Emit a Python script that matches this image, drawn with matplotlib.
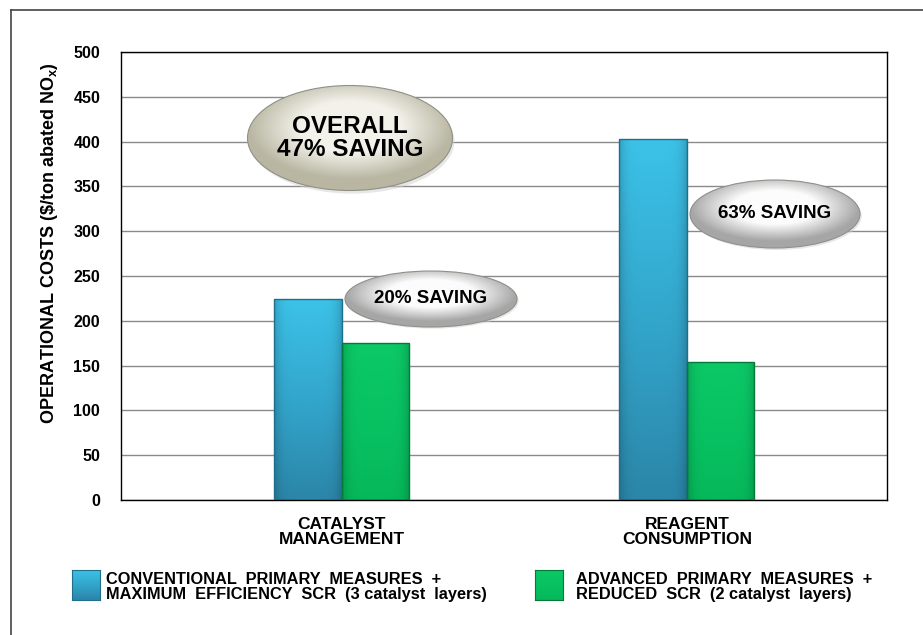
import matplotlib
matplotlib.use("Agg")
import matplotlib.pyplot as plt
from matplotlib.patches import Ellipse
from matplotlib.colors import LinearSegmentedColormap
import numpy as np

plt.rcParams['font.family'] = ['Liberation Sans', 'DejaVu Sans']
plt.rcParams['font.weight'] = 'bold'
plt.rcParams['mathtext.fontset'] = 'custom'
plt.rcParams['mathtext.rm'] = 'Liberation Sans:bold'
plt.rcParams['mathtext.bf'] = 'Liberation Sans:bold'

categories = ["CATALYST\nMANAGEMENT", "REAGENT\nCONSUMPTION"]
conventional = [224, 403]
advanced = [175, 154]
series_names = ["CONVENTIONAL  PRIMARY  MEASURES  +\nMAXIMUM  EFFICIENCY  SCR  (3 catalyst  layers)",
                "ADVANCED  PRIMARY  MEASURES  +\nREDUCED  SCR  (2 catalyst  layers)"]
yticks = list(range(0, 501, 50))

W, H = 923, 635
fig = plt.figure(figsize=(W / 100, H / 100), dpi=100)
ax = fig.add_axes([121 / W, 1 - 500 / H, (887 - 121) / W, (500 - 52) / H])

# outer frame (only left and top visible)
fig.add_artist(plt.Line2D([11 / W, 11 / W], [0, 1 - 10 / H], color="#444444", lw=1.2))
fig.add_artist(plt.Line2D([11 / W, 1], [1 - 10 / H, 1 - 10 / H], color="#444444", lw=1.2))

blue_cmap = LinearSegmentedColormap.from_list("b", ["#2b86a8", "#33a6cc", "#3cc2e8"])
green_cmap = LinearSegmentedColormap.from_list("g", ["#06b85a", "#08c262", "#0cc866"])

x = np.arange(len(categories))
w = 0.195
off = 0.098


def gradient_bar(xc, h, cmap, edge):
    b = ax.bar(xc, h, w, color="none", edgecolor=edge, lw=1.0, zorder=3)[0]
    grad = np.linspace(0, 1, 100).reshape(-1, 1)
    side = np.linspace(-1, 1, 60)
    shade = 1 - 0.18 * np.abs(side) ** 6
    img = cmap(grad)[:, :, :3] * shade[None, :, None]
    im = ax.imshow(img, extent=[xc - w / 2, xc + w / 2, 0, h], origin="lower",
                   aspect="auto", zorder=2)
    im.set_clip_path(b)
    return b


for i in range(len(categories)):
    gradient_bar(x[i] - off, conventional[i], blue_cmap, "#1f6f8c")
    gradient_bar(x[i] + off, advanced[i], green_cmap, "#047a3a")

ax.set_xlim(-0.64, 1.58)
ax.set_ylim(0, 500)
ax.set_yticks(yticks)
ax.set_yticklabels([str(t) for t in yticks], fontsize=11.5, fontweight="bold")
ax.tick_params(axis="y", length=0, pad=15)
ax.set_xticks(x)
ax.set_xticklabels(categories, fontsize=12.5, fontweight="bold", linespacing=1.0)
ax.tick_params(axis="x", length=0, pad=12)
ax.grid(axis="y", color="#8a8a8a", lw=1.0, zorder=0)
ax.set_axisbelow(True)
for s in ax.spines.values():
    s.set_color("black")
    s.set_linewidth(1.0)

fig.text(50 / W, 1 - 243 / H, "OPERATIONAL COSTS (\\$/ton abated NO$_\\mathbf{x}$)",
         fontsize=13, fontweight="bold", rotation=90, ha="center", va="center")


def pix(px, py):
    return ax.transData.inverted().transform(fig.transFigure.transform((px / W, 1 - py / H)))


def gradient_ellipse(cx, cy, ew, eh, inner, outer, text, fs):
    x0, y0 = pix(cx - ew / 2, cy + eh / 2)
    x1, y1 = pix(cx + ew / 2, cy - eh / 2)
    xc, yc = (x0 + x1) / 2, (y0 + y1) / 2
    e = Ellipse((xc, yc), x1 - x0, y1 - y0, facecolor="none", edgecolor="#909088",
                lw=0.8, zorder=6)
    ax.add_patch(e)
    sh = Ellipse((xc + (x1 - x0) * 0.01, yc - (y1 - y0) * 0.03), x1 - x0, y1 - y0,
                 facecolor="#d0d0d0", edgecolor="none", alpha=0.5, zorder=4)
    ax.add_patch(sh)
    gx, gy = np.meshgrid(np.linspace(-1, 1, 200), np.linspace(-1, 1, 120))
    r = np.sqrt(gx ** 2 + (gy - 0.2) ** 2)
    r = np.clip(r, 0, 1)
    cmap = LinearSegmentedColormap.from_list("e", [inner, inner, outer])
    im = ax.imshow(cmap(r)[:, :, :3], extent=[x0, x1, y0, y1], origin="lower",
                   aspect="auto", zorder=5)
    im.set_clip_path(e)
    ax.text(xc, yc, text, ha="center", va="center", fontsize=fs, fontweight="bold",
            zorder=7, linespacing=1.0)


gradient_ellipse(350, 138, 205, 105, "#f3f2ea", "#b9b6a2", "OVERALL\n47% SAVING", 17.5)
gradient_ellipse(431, 299, 172, 56, "#fcfcfc", "#a6a6a6", "20% SAVING", 13.5)
gradient_ellipse(775, 214, 170, 68, "#fcfcfc", "#a6a6a6", "63% SAVING", 13.5)

# legend
leg_items = [(72, 570, blue_cmap, "#1f6f8c", series_names[0], 106),
             (535, 570, green_cmap, "#047a3a", series_names[1], 576)]
for lx, ly, cmap, edge, label, tx in leg_items:
    lax = fig.add_axes([lx / W, 1 - (ly + 30) / H, 28 / W, 30 / H])
    g = np.linspace(0, 1, 50).reshape(-1, 1)
    lax.imshow(cmap(g)[:, :, :3] * np.ones((1, 30, 1)), origin="lower", aspect="auto")
    lax.set_xticks([])
    lax.set_yticks([])
    for s in lax.spines.values():
        s.set_color(edge)
    fig.text(tx / W, 1 - 587 / H, label, fontsize=11.8, fontweight="bold",
             va="center", ha="left", linespacing=1.05)

fig.savefig("out.png", dpi=100)
